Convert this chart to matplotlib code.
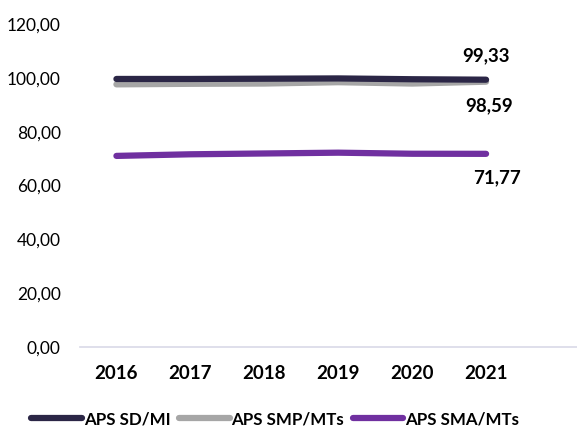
import matplotlib.pyplot as plt
import numpy as np

plt.rcParams['font.family'] = ['Lato', 'DejaVu Sans']

years = ['2016', '2017', '2018', '2019', '2020', '2021']
sd_mi = [99.6, 99.6, 99.7, 99.8, 99.5, 99.33]
smp_mts = [97.6, 97.8, 97.9, 98.4, 97.9, 98.59]
sma_mts = [71.0, 71.6, 71.9, 72.2, 71.8, 71.77]

fig = plt.figure(figsize=(5.77, 4.38), dpi=100)
ax = fig.add_axes([0.139, 0.208, 0.861, 0.737])

x = np.arange(len(years))
ax.plot(x, sd_mi, color='#2b2646', lw=4.5, solid_capstyle='round', label='APS SD/MI', zorder=3)
ax.plot(x, smp_mts, color='#a6a6a6', lw=4.5, solid_capstyle='round', label='APS SMP/MTs', zorder=2)
ax.plot(x, sma_mts, color='#7030a0', lw=4.5, solid_capstyle='round', label='APS SMA/MTs', zorder=2)

def fmt(v):
    return f'{v:.2f}'.replace('.', ',')

ax.annotate(fmt(sd_mi[-1]), (x[-1], sd_mi[-1]), xytext=(0, 11), textcoords='offset points',
            ha='center', va='bottom', fontsize=13.5, fontweight='bold')
ax.annotate(fmt(smp_mts[-1]), (x[-1], smp_mts[-1]), xytext=(2, -11), textcoords='offset points',
            ha='center', va='top', fontsize=13.5, fontweight='bold')
ax.annotate(fmt(sma_mts[-1]), (x[-1], sma_mts[-1]), xytext=(8, -11), textcoords='offset points',
            ha='center', va='top', fontsize=13.5, fontweight='bold')

ax.set_xlim(-0.49, 6.23)
ax.set_ylim(0, 120)
ax.set_yticks(np.arange(0, 121, 20))
ax.set_yticklabels([fmt(v) for v in np.arange(0, 121, 20)], fontsize=12.5)
ax.set_xticks(x)
ax.set_xticklabels(years, fontsize=13.5, fontweight='bold')
ax.tick_params(length=0)
ax.tick_params(axis='x', pad=13)
ax.tick_params(axis='y', pad=14)
for s in ['top', 'right', 'left']:
    ax.spines[s].set_visible(False)
ax.spines['bottom'].set_color('#d9d9e8')
ax.spines['bottom'].set_linewidth(1.2)

leg = fig.legend(loc='lower center', bbox_to_anchor=(0.477, -0.01), ncol=3, frameon=False,
                 prop={'weight': 'bold', 'size': 12.2}, handlelength=3.0, handletextpad=0.1,
                 columnspacing=0.5)

fig.savefig('out.png', dpi=100)
